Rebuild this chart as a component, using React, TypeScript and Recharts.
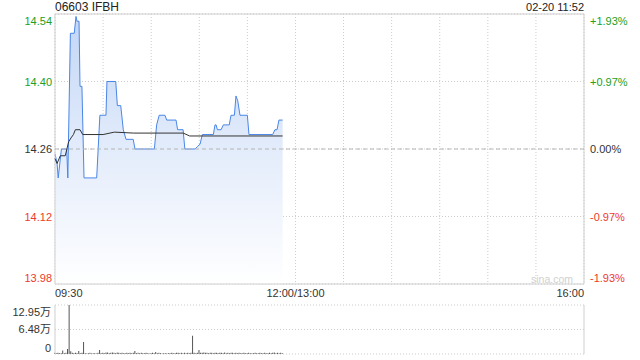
import React from 'react';
import {
  ComposedChart,
  Area,
  Line,
  Bar,
  XAxis,
  YAxis,
  CartesianGrid,
  ReferenceLine,
  ReferenceArea,
} from 'recharts';

const title = '06603 IFBH';
const stamp = '02-20 11:52';
const watermark = 'sina.com';
const prevClose = 14.26;
const priceTicks = [13.98, 14.12, 14.26, 14.4, 14.54];
const pctLabels = ['-1.93%', '-0.97%', '0.00%', '+0.97%', '+1.93%'];
const timeTicks = [0, 30, 60, 90, 120, 150, 180, 210, 240, 270, 300, 330];
const timeLabels: Record<number, string> = { 0: '09:30', 150: '12:00/13:00', 330: '16:00' };

const priceMinutes = [
  0, 1.3, 2, 4, 7.3, 8, 9.6, 12, 13.1, 13.7,
  15, 15.6, 16.8, 18.1, 26, 28, 31.8, 32.4, 37.9, 38.9,
  41, 42.6, 44.3, 48.8, 49.9, 62, 63.4, 65, 68.6, 69.7,
  75.5, 76.5, 79.9, 81, 87.3, 88.8, 90.5, 91.9, 98.8, 99.8,
  100.5, 101.3, 103.6, 105, 108.7, 109.8, 111.9, 112.9, 114, 115.4,
  120, 121, 135.8, 137.2, 138.5, 139.7, 142,
];
const priceValues = [
  14.25, 14.23, 14.2, 14.26, 14.26, 14.2, 14.5, 14.5, 14.535, 14.525,
  14.525, 14.39, 14.39, 14.2, 14.2, 14.33, 14.33, 14.4, 14.4, 14.35,
  14.35, 14.3, 14.28, 14.28, 14.26, 14.26, 14.31, 14.33, 14.33, 14.32,
  14.32, 14.3, 14.3, 14.26, 14.26, 14.265, 14.27, 14.29, 14.29, 14.31,
  14.31, 14.3, 14.3, 14.31, 14.31, 14.33, 14.33, 14.37, 14.36, 14.33,
  14.33, 14.29, 14.29, 14.3, 14.3, 14.32, 14.32,
];

const avgMinutes = [0, 1.3, 3.3, 6.4, 8.5, 10, 11.5, 12.7, 15.6, 17.3, 30, 37, 49, 80, 84, 142];
const avgValues = [
  14.24, 14.23, 14.246, 14.246, 14.275, 14.283, 14.29, 14.3, 14.3, 14.29,
  14.29, 14.295, 14.293, 14.293, 14.287, 14.287,
];

// volume per minute, in 万
const volumes = [
  0.3, 0.2, 0.3, 0.2, 0.2, 0.9, 0.2, 0.3, 1.3, 12.95,
  0.7, 0.3, 0.2, 0.3, 0.2, 0.8, 0.2, 0.3, 3.2, 0.2,
  0.1, 0.2, 0.3, 0.1, 0.2, 0.2, 0.1, 0.3, 1.05, 0.2,
  0.3, 0.2, 0.4, 0.4, 0.2, 0.3, 0.4, 0.3, 0.2, 0.4,
  0.3, 0.2, 0.3, 0.2, 0.2, 0.3, 0.2, 0.3, 0.2, 0.3,
  0.8, 0.2, 0.3, 0.2, 0.3, 0.2, 0.2, 0.3, 0.2, 0.1,
  0.2, 0.3, 0.2, 0.5, 0.2, 0.3, 0.2, 0.1, 0.2, 0.2,
  0.1, 0.2, 0.2, 0.3, 0.2, 0.2, 0.3, 0.3, 0.2, 0.3,
  0.2, 0.3, 0.2, 0.3, 0.2, 0.3, 4.8, 0.3, 0.2, 0.3,
  1.05, 0.3, 0.3, 0.4, 0.3, 0.3, 0.2, 0.3, 0.3, 0.2,
  0.3, 0.3, 0.2, 0.3, 0.3, 0.2, 0.4, 0.2, 0.3, 0.2,
  0.3, 0.3, 0.2, 0.3, 0.2, 0.3, 0.2, 0.2, 0.3, 0.2,
  0.2, 0.3, 0.2, 0.2, 0.2, 0.3, 0.2, 0.2, 0.3, 0.2,
  0.2, 0.3, 0.2, 0.2, 0.3, 0.2, 0.3, 0.4, 0.2, 0.3,
  0.2, 0.3, 0.2,
];
const volTicks = [0, 6.48, 12.95];
const volLabels = ['0', '6.48万', '12.95万'];

const priceData = priceMinutes.map((t, i) => ({ t, price: priceValues[i] }));
const avgData = avgMinutes.map((t, i) => ({ t, avg: avgValues[i] }));
const volData = volumes.map((v, i) => ({ t: i, vol: v }));

const FONT = "Arial, 'Liberation Sans', Helvetica, 'Noto Sans CJK SC', sans-serif";
const GREEN = '#22a022';
const RED = '#ee3a2c';
const DARK = '#333333';
const GRID = '#cccccc';
const BORDER = '#cfcfcf';

const colorFor = (v: number) => (v > prevClose + 1e-9 ? GREEN : v < prevClose - 1e-9 ? RED : DARK);
const edgeShift = (v: number, lo: number, hi: number, top: number, bottom: number) =>
  Math.abs(v - hi) < 1e-9 ? top : Math.abs(v - lo) < 1e-9 ? bottom : 0;

const LeftTick = (props: any) => {
  const { x, y, payload } = props;
  const v = payload.value as number;
  return (
    <text x={x} y={y + edgeShift(v, 13.98, 14.54, 7, -6)} textAnchor="end" dominantBaseline="central"
      fontSize={11} fontFamily={FONT} fill={colorFor(v)}>
      {v.toFixed(2)}
    </text>
  );
};

const RightTick = (props: any) => {
  const { x, y, payload } = props;
  const v = payload.value as number;
  const idx = priceTicks.findIndex((p) => Math.abs(p - v) < 1e-9);
  return (
    <text x={x} y={y + edgeShift(v, 13.98, 14.54, 7, -6)} textAnchor="start" dominantBaseline="central"
      fontSize={11} fontFamily={FONT} fill={colorFor(v)}>
      {pctLabels[idx]}
    </text>
  );
};

const TimeTick = (props: any) => {
  const { x, y, payload } = props;
  const v = payload.value as number;
  const label = timeLabels[v];
  if (!label) return <g />;
  const anchor = v === 0 ? 'start' : v === 330 ? 'end' : 'middle';
  return (
    <text x={x} y={y + 13} textAnchor={anchor} fontSize={11} fontFamily={FONT} fill={DARK}>
      {label}
    </text>
  );
};

const VolTick = (props: any) => {
  const { x, y, payload } = props;
  const v = payload.value as number;
  const idx = volTicks.findIndex((p) => Math.abs(p - v) < 1e-9);
  return (
    <text x={x} y={y + edgeShift(v, 0, 12.95, 7, -6)} textAnchor="end" dominantBaseline="central"
      fontSize={11} fontFamily={FONT} fill={DARK}>
      {volLabels[idx]}
    </text>
  );
};

export default function App() {
  return (
    <div style={{ position: 'absolute', left: 0, top: 0, width: 640, height: 360, background: '#fff', fontFamily: FONT }}>
      <div style={{ position: 'absolute', left: 0, top: 0 }}>
        <ComposedChart width={640} height={300} margin={{ top: 14, right: 0, bottom: 0, left: 0 }}>
          <defs>
            <linearGradient id="priceFill" x1="0" y1="0" x2="0" y2="1">
              <stop offset="0%" stopColor="#c2d6f6" stopOpacity={1} />
              <stop offset="50%" stopColor="#e3ecfb" stopOpacity={1} />
              <stop offset="100%" stopColor="#ffffff" stopOpacity={1} />
            </linearGradient>
          </defs>
          <CartesianGrid stroke={GRID} strokeDasharray="1 2" />
          <XAxis dataKey="t" type="number" domain={[0, 330]} ticks={timeTicks} interval={0}
            tick={<TimeTick />} tickSize={0} tickMargin={0} axisLine={false} tickLine={false} height={16} />
          <YAxis yAxisId={0} type="number" domain={[13.98, 14.54]} ticks={priceTicks} interval={0}
            tick={<LeftTick />} tickSize={0} tickMargin={3} axisLine={false} tickLine={false} width={55} />
          <YAxis yAxisId="r" orientation="right" type="number" domain={[13.98, 14.54]} ticks={priceTicks} interval={0}
            tick={<RightTick />} tickSize={0} tickMargin={6} axisLine={false} tickLine={false} width={56} />
          <Area data={priceData} dataKey="price" type="linear" stroke="#4a86e8" strokeWidth={1}
            fill="url(#priceFill)" fillOpacity={1} isAnimationActive={false} dot={false} activeDot={false} />
          <Line data={avgData} yAxisId="r" dataKey="avg" type="linear" stroke="#333" strokeWidth={1}
            dot={false} activeDot={false} isAnimationActive={false} />
          <ReferenceLine y={prevClose} stroke="#b5b5b5" strokeDasharray="4 3" />
          <ReferenceArea x1={0} x2={330} y1={13.98} y2={14.54} fill="none" stroke={BORDER} strokeWidth={1} ifOverflow="visible" />
        </ComposedChart>
      </div>
      <div style={{ position: 'absolute', left: 0, top: 300 }}>
        <ComposedChart width={640} height={60} data={volData} margin={{ top: 5, right: 56, bottom: 6, left: 0 }}>
          <CartesianGrid stroke={GRID} strokeDasharray="1 2" vertical={false} />
          <XAxis dataKey="t" type="number" domain={[0, 330]} hide />
          <YAxis type="number" domain={[0, 12.95]} ticks={volTicks} interval={0} tick={<VolTick />}
            tickSize={0} tickMargin={4} axisLine={false} tickLine={false} width={55} />
          <Bar dataKey="vol" fill="#555" barSize={1} isAnimationActive={false} />
          <ReferenceLine x={0} stroke={BORDER} />
          <ReferenceLine x={330} stroke={BORDER} />
        </ComposedChart>
      </div>
      <svg width={640} height={360} style={{ position: 'absolute', left: 0, top: 0, pointerEvents: 'none' }}>
        <text x={55} y={11} fontSize={12} fontFamily={FONT} fill="#222">{title}</text>
        <text x={584} y={11} fontSize={11} fontFamily={FONT} fill="#222" textAnchor="end">{stamp}</text>
        <text x={573} y={283} fontSize={10.5} fontFamily={FONT} fill="#d0d0d0" textAnchor="end">{watermark}</text>
      </svg>
    </div>
  );
}
